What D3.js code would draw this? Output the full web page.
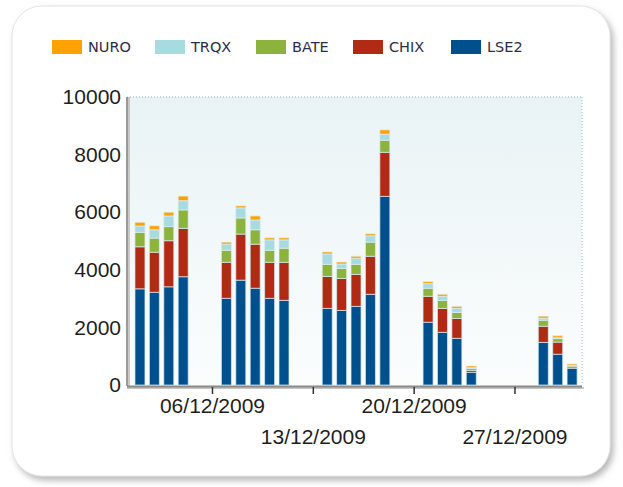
<!DOCTYPE html>
<html>
<head>
<meta charset="utf-8">
<script src="https://cdn.jsdelivr.net/npm/d3@7"></script>
<style>
  body { margin: 0; background: #fff; }
  .legend text { font-family: "DejaVu Sans", sans-serif; font-size: 14.5px; fill: #2d2d4a; }
  .axis text { font-family: "Liberation Sans", Arial, sans-serif; font-size: 21px; fill: #1e1e1e; }
</style>
</head>
<body>
<svg id="chart" width="623" height="487"></svg>
<script>
// Daily volume per venue, Dec 2009
const dates = ["2009-12-01", "2009-12-02", "2009-12-03", "2009-12-04",
  "2009-12-07", "2009-12-08", "2009-12-09", "2009-12-10", "2009-12-11",
  "2009-12-14", "2009-12-15", "2009-12-16", "2009-12-17", "2009-12-18",
  "2009-12-21", "2009-12-22", "2009-12-23", "2009-12-24",
  "2009-12-29", "2009-12-30", "2009-12-31"];
const lse2 = [3340, 3220, 3410, 3760, 3010, 3640, 3360, 3010, 2940, 2660, 2590, 2730, 3150, 6550, 2180, 1830, 1620, 440, 1480, 1070, 580];
const chix = [1460, 1390, 1600, 1680, 1250, 1600, 1530, 1250, 1320, 1110, 1110, 1110, 1320, 1530, 900, 830, 690, 70, 560, 420, 50];
const bate = [500, 490, 490, 640, 420, 560, 500, 420, 490, 420, 350, 350, 490, 420, 280, 280, 210, 70, 210, 120, 40];
const trqx = [220, 290, 370, 320, 210, 350, 340, 360, 290, 360, 150, 210, 220, 210, 160, 140, 140, 20, 70, 30, 10];
const nuro = [130, 140, 130, 160, 70, 70, 140, 70, 70, 70, 70, 70, 70, 150, 70, 70, 70, 60, 70, 70, 50];

const seriesNames = ["LSE2", "CHIX", "BATE", "TRQX", "NURO"]; // stacking order, bottom first
const legendNames = ["NURO", "TRQX", "BATE", "CHIX", "LSE2"];
const yTicks = [0, 2000, 4000, 6000, 8000, 10000];
const xTicks = ["2009-12-06", "2009-12-13", "2009-12-20", "2009-12-27"];

const colors = {
  NURO: "#ffa200",
  TRQX: "#a8dbdf",
  BATE: "#8cb43c",
  CHIX: "#b02a14",
  LSE2: "#00508e"
};

const parse = d3.timeParse("%Y-%m-%d");
const rows = dates.map((d, i) => ({
  date: parse(d),
  LSE2: lse2[i], CHIX: chix[i], BATE: bate[i], TRQX: trqx[i], NURO: nuro[i]
}));

const svg = d3.select("#chart");
const defs = svg.append("defs");

// card shadow
const shadow = defs.append("filter").attr("id", "shadow")
  .attr("x", "-5%").attr("y", "-5%").attr("width", "112%").attr("height", "115%");
shadow.append("feDropShadow")
  .attr("dx", 3).attr("dy", 4).attr("stdDeviation", 3)
  .attr("flood-color", "#888").attr("flood-opacity", 0.6);

const bg = defs.append("linearGradient").attr("id", "plotbg")
  .attr("x1", 0).attr("x2", 0).attr("y1", 0).attr("y2", 1);
bg.append("stop").attr("offset", "0%").attr("stop-color", "#e9f3f5");
bg.append("stop").attr("offset", "100%").attr("stop-color", "#fbfdfd");

svg.append("rect")
  .attr("x", 12).attr("y", 6)
  .attr("width", 598).attr("height", 470)
  .attr("rx", 30)
  .attr("fill", "#fff")
  .attr("stroke", "#e4e4e4")
  .attr("filter", "url(#shadow)");

const plot = { left: 127, right: 582, top: 97, bottom: 385 };

const x = d3.scaleTime()
  .domain([new Date(2009, 10, 30, 2, 24), new Date(2009, 11, 31, 16, 30)])
  .range([plot.left, plot.right]);

const y = d3.scaleLinear()
  .domain([0, 10000])
  .range([plot.bottom, plot.top]);

// plot background
svg.append("rect")
  .attr("x", plot.left).attr("y", plot.top)
  .attr("width", plot.right - plot.left).attr("height", plot.bottom - plot.top)
  .attr("fill", "url(#plotbg)");

svg.append("line")
  .attr("x1", plot.left).attr("x2", plot.right)
  .attr("y1", y(10000)).attr("y2", y(10000))
  .attr("stroke", "#9fbcc4").attr("stroke-dasharray", "1,2");
svg.append("line")
  .attr("x1", plot.right).attr("x2", plot.right)
  .attr("y1", plot.top).attr("y2", plot.bottom)
  .attr("stroke", "#9fbcc4").attr("stroke-dasharray", "1,2");

// bars
const stack = d3.stack().keys(seriesNames);
const layers = stack(rows);
const barW = 10;

svg.append("g").selectAll("g")
  .data(layers)
  .join("g")
  .attr("fill", (d) => colors[d.key])
  .selectAll("rect")
  .data((d) => d)
  .join("rect")
  .attr("x", (d) => x(d.data.date) - barW / 2)
  .attr("width", barW)
  .attr("y", (d) => y(d[1]))
  .attr("height", (d) => y(d[0]) - y(d[1]))
  .attr("stroke", "rgba(220,238,245,0.7)")
  .attr("stroke-width", 1);

// axes lines with a little bevel
svg.append("line")
  .attr("x1", plot.left + 2).attr("x2", plot.left + 2)
  .attr("y1", plot.top).attr("y2", plot.bottom + 3)
  .attr("stroke", "#c8c8c8").attr("stroke-width", 2);
svg.append("line")
  .attr("x1", plot.left).attr("x2", plot.left)
  .attr("y1", plot.top).attr("y2", plot.bottom + 1)
  .attr("stroke", "#7a7a7a").attr("stroke-width", 1.5);
svg.append("line")
  .attr("x1", plot.left).attr("x2", plot.right + 2)
  .attr("y1", plot.bottom + 3).attr("y2", plot.bottom + 3)
  .attr("stroke", "#c4c4c4").attr("stroke-width", 2);
svg.append("line")
  .attr("x1", plot.left).attr("x2", plot.right)
  .attr("y1", plot.bottom + 1.5).attr("y2", plot.bottom + 1.5)
  .attr("stroke", "#8a8a8a").attr("stroke-width", 2);

// y axis labels
const yAxis = svg.append("g")
  .attr("class", "axis")
  .attr("transform", `translate(${plot.left},0)`)
  .call(d3.axisLeft(y).tickValues(yTicks).tickSize(0).tickPadding(6).tickFormat(d3.format("d")));
yAxis.select(".domain").remove();

// x axis ticks + staggered labels
const xAxis = svg.append("g")
  .attr("class", "axis")
  .attr("transform", `translate(0,${plot.bottom + 2})`)
  .call(d3.axisBottom(x).tickValues(xTicks.map(parse)).tickSize(7).tickPadding(4)
    .tickFormat(d3.timeFormat("%d/%m/%Y")));
xAxis.select(".domain").remove();
xAxis.selectAll(".tick line").attr("stroke", "#333").attr("stroke-width", 1.5);
xAxis.selectAll(".tick text")
  .attr("dy", (d, i) => (i % 2 === 0 ? "0.71em" : "2.2em"));

// legend
const legend = svg.append("g").attr("class", "legend");
const legendX = [52, 155, 256, 353, 451];
legendNames.forEach((name, i) => {
  const item = legend.append("g").attr("transform", `translate(${legendX[i]},40)`);
  item.append("rect")
    .attr("width", 30).attr("height", 14)
    .attr("fill", colors[name]);
  item.append("text")
    .attr("x", 36).attr("y", 12)
    .text(name);
});
</script>
</body>
</html>
